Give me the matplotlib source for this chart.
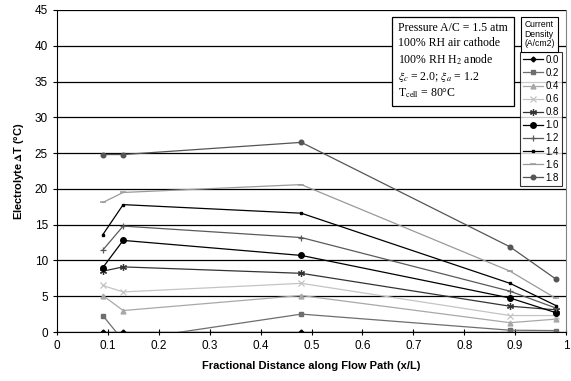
import numpy as np
import matplotlib
matplotlib.use('Agg')
import matplotlib.pyplot as plt

# data
x_pos = [0.09, 0.13, 0.48, 0.89, 0.98]
densities = ['0.0', '0.2', '0.4', '0.6', '0.8', '1.0', '1.2', '1.4', '1.6', '1.8']
dt_00 = [0.0, 0.0, 0.0, 0.0, 0.0]
dt_02 = [2.3, -1.2, 2.5, 0.25, 0.2]
dt_04 = [5.1, 3.0, 5.1, 1.3, 1.8]
dt_06 = [6.5, 5.6, 6.8, 2.3, 2.3]
dt_08 = [8.5, 9.1, 8.2, 3.6, 3.1]
dt_10 = [9.0, 12.8, 10.7, 4.75, 2.7]
dt_12 = [11.45, 14.8, 13.2, 5.7, 3.35]
dt_14 = [13.6, 17.8, 16.6, 6.8, 3.7]
dt_16 = [18.1, 19.5, 20.6, 8.5, 4.7]
dt_18 = [24.8, 24.8, 26.5, 11.9, 7.4]
series = [dt_00, dt_02, dt_04, dt_06, dt_08, dt_10, dt_12, dt_14, dt_16, dt_18]

# excel-ish grayscale styles
styles = [
    dict(color='black', marker='D', ms=2.5),
    dict(color='#6e6e6e', marker='s', ms=3.5),
    dict(color='#a8a8a8', marker='^', ms=3.5),
    dict(color='#c4c4c4', marker='x', ms=4, mew=0.9),
    dict(color='#333333', marker=(6, 2, 0), ms=5, mew=0.9),
    dict(color='black', marker='o', ms=4),
    dict(color='#5a5a5a', marker='+', ms=5, mew=0.9),
    dict(color='black', marker='s', ms=1.8),
    dict(color='#9a9a9a', marker='_', ms=4, mew=1.1),
    dict(color='#555555', marker='o', ms=3.3),
]

plt.rcParams['font.family'] = ['Liberation Sans', 'DejaVu Sans']
plt.rcParams['mathtext.fontset'] = 'stix'

fig = plt.figure(figsize=(5.71, 3.81), dpi=100)
ax = fig.add_axes([0.0998, 0.1286, 0.8915, 0.8452])

for i in range(len(series)):
    ax.plot(x_pos, series[i], lw=0.9, label=densities[i], **styles[i])

ax.set_xlim(0, 1)
ax.set_ylim(0, 45)
ax.set_xticks(np.arange(0, 1.01, 0.1))
ax.set_xticklabels(['0', '0.1', '0.2', '0.3', '0.4', '0.5', '0.6', '0.7', '0.8', '0.9', '1'])
ax.set_yticks(np.arange(0, 46, 5))
ax.yaxis.grid(True, color='black', lw=0.9)
ax.set_axisbelow(True)
ax.tick_params(labelsize=8.5, length=3, width=0.8)
ax.tick_params(axis='x', direction='inout', length=5)
ax.spines['top'].set_visible(False)
ax.spines['right'].set_color('#808080')
ax.set_xlabel('Fractional Distance along Flow Path (x/L)', fontsize=8, fontweight='bold', labelpad=6)
ax.set_ylabel('Electrolyte$\\,\\mathbf{\\Delta}$T (°C)', fontsize=8, fontweight='bold', labelpad=6)

info = ('Pressure A/C = 1.5 atm\n'
        '100% RH air cathode\n'
        '100% RH H$_2$ anode\n'
        '$\\xi_c$ = 2.0; $\\xi_a$ = 1.2\n'
        'T$_{\\mathrm{cell}}$ = 80°C')
ax.text(0.67, 0.962, info, transform=ax.transAxes, va='top', ha='left',
        fontsize=8.5, family='Liberation Serif', linespacing=1.3,
        bbox=dict(boxstyle='square,pad=0.5', fc='white', ec='black', lw=0.9))

fig.text(0.9445, 0.873, 'Current\nDensity\n(A/cm2)', ha='center', va='bottom', fontsize=6.2,
         linespacing=1.1,
         bbox=dict(boxstyle='square,pad=0.4', fc='white', ec='black', lw=0.8))
leg = ax.legend(loc='upper left', bbox_to_anchor=(0.911, 0.864), bbox_transform=fig.transFigure,
                fontsize=7, frameon=True, fancybox=False, edgecolor='black',
                handlelength=2.0, handletextpad=0.3, labelspacing=0.32,
                borderpad=0.3, borderaxespad=0)
leg.get_frame().set_linewidth(0.8)

fig.savefig('out.png', dpi=100)
